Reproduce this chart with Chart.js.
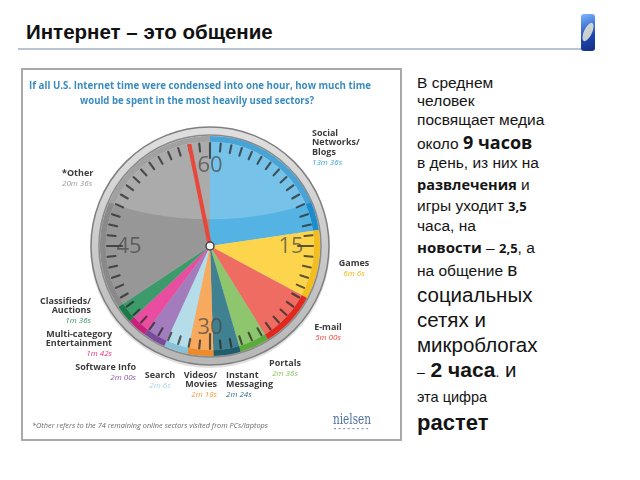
<!DOCTYPE html>
<html>
<head>
<meta charset="utf-8">
<script src="https://cdn.jsdelivr.net/npm/chart.js@4"></script>
<style>
  body { margin: 0; width: 640px; height: 480px; background: #fff; position: relative; overflow: hidden; font-family: "Liberation Sans", Arial, sans-serif; color: #141414; }
  #title { position: absolute; left: 26px; top: 20px; font-size: 20.5px; font-weight: bold; color: #111; }
  #rule { position: absolute; left: 18px; top: 48px; width: 565px; height: 2px; background: #b9c4ce; }
  #logo { position: absolute; left: 581px; top: 14px; width: 14px; height: 37px; border-radius: 3px; background: linear-gradient(160deg, #7ab8ff, #1d46b4 60%, #12307e); }
  #logo:after { content: ""; position: absolute; left: 3px; top: 8px; width: 8px; height: 20px; border-radius: 50%; background: rgba(230,230,210,0.85); transform: rotate(25deg); }
  #box { position: absolute; left: 21px; top: 68px; width: 381px; height: 373px; box-sizing: border-box; border: 2px solid #a9a9a9; }
  #side div { position: absolute; left: 417px; white-space: nowrap; line-height: 20px; }
  .b { font-family: "Open Sans", sans-serif; font-weight: bold; }
  canvas { position: absolute; left: 0; top: 0; }
</style>
</head>
<body>
<div id="title">Интернет – это общение</div>
<div id="rule"></div>
<div id="logo"></div>
<div id="box"></div>
<div id="side">
  <div style="top:73px;font-size:15.5px">В среднем</div>
  <div style="top:91px;font-size:15.5px">человек</div>
  <div style="top:110px;font-size:15.5px">посвящает медиа</div>
  <div style="top:132px;font-size:15.5px">около <span class="b" style="font-size:18px">9 часов</span></div>
  <div style="top:153px;font-size:15.5px">в день, из них на</div>
  <div style="top:175px;font-size:15.5px"><span class="b" style="font-size:14.5px">развлечения</span> и</div>
  <div style="top:196px;font-size:15.5px">игры уходит <span class="b" style="font-size:13px">3,5</span></div>
  <div style="top:216px;font-size:15.5px">часа, на</div>
  <div style="top:237px;font-size:15.5px"><span class="b" style="font-size:15px">новости</span> – <span class="b" style="font-size:13px">2,5</span>, а</div>
  <div style="top:260px;font-size:15.5px">на общение <span style="font-size:19px">в</span></div>
  <div style="top:285px;font-size:20.5px">социальных</div>
  <div style="top:310px;font-size:20.5px">сетях и</div>
  <div style="top:335px;font-size:20.5px">микроблогах</div>
  <div style="top:360px;font-size:20.5px"><span style="font-size:14px">–</span> <b style="font-size:21px">2 часа</b><span style="font-size:14px">.</span> и</div>
  <div style="top:387px;font-size:14.5px">эта цифра</div>
  <div style="top:413px;font-size:22px;font-weight:bold">растет</div>
</div>
<canvas id="clockChart" width="640" height="480"></canvas>
<script>
// seconds per hour of US internet time, clockwise from 12 o'clock
const sectors = ['Social\nNetworks/\nBlogs', 'Games', 'E-mail', 'Portals', 'Instant\nMessaging', 'Videos/\nMovies', 'Search', 'Software Info', 'Multi-category\nEntertainment', 'Classifieds/\nAuctions', '*Other'];
const seconds = [816, 366, 300, 156, 144, 138, 126, 120, 102, 96, 1236];
const timeLabels = ['13m 36s', '6m 6s', '5m 00s', '2m 36s', '2m 24s', '2m 18s', '2m 6s', '2m 00s', '1m 42s', '1m 36s', '20m 36s'];
const dialNumbers = ['60', '15', '30', '45'];

const fillColors = ['#55b3e3', '#fdd54c', '#ee6c61', '#8dc66d', '#3f8191', '#f7a95d', '#b5dde9', '#a27cbd', '#e94d9f', '#3d9a6b', '#979797'];
const edgeColors = ['#1b8ccd', '#f3bd1c', '#e2291f', '#5aab3a', '#1f5d6d', '#ef8a2a', '#86c3da', '#7a4a9a', '#c8207a', '#1c7a48', '#8a8a8a'];
const textColors = ['#3aa3da', '#f2b600', '#e8403a', '#86c05e', '#2f6f7f', '#f29a38', '#a6d2e0', '#8a5aa8', '#e0308a', '#3a9060', '#9a9a9a'];

// label anchors on the page: x, y of first line, alignment
const labelLayout = [
    [312, 133, 'left'], [354, 263, 'center'], [328, 327, 'center'], [285, 363, 'center'],
    [226, 375, 'left'], [217, 375, 'right'], [160, 375, 'center'], [136, 367, 'right'],
    [112, 334, 'right'], [91, 301, 'right'], [62, 173, 'left']
];

const clockFace = {
    id: 'clockFace',
    beforeDatasetsDraw(chart) {
        const arc = chart.getDatasetMeta(0).data[0];
        const { x, y, outerRadius } = arc.getProps(['x', 'y', 'outerRadius'], true);
        const ctx = chart.ctx;
        ctx.save();
        ctx.beginPath();
        ctx.arc(x, y + 2, outerRadius + 10, 0, Math.PI * 2);
        ctx.fillStyle = 'rgba(0,0,0,0.12)';
        ctx.fill();
        ctx.beginPath();
        ctx.arc(x, y, outerRadius + 9, 0, Math.PI * 2);
        const g = ctx.createLinearGradient(0, y - outerRadius, 0, y + outerRadius);
        g.addColorStop(0, '#dedede');
        g.addColorStop(1, '#b8b8b8');
        ctx.fillStyle = g;
        ctx.fill();
        ctx.lineWidth = 1.5;
        ctx.strokeStyle = '#7f7f7f';
        ctx.stroke();
        ctx.beginPath();
        ctx.arc(x, y, outerRadius + 1, 0, Math.PI * 2);
        ctx.strokeStyle = '#8a8a8a';
        ctx.lineWidth = 1.5;
        ctx.stroke();
        ctx.restore();
    },
    afterDatasetsDraw(chart) {
        const arc = chart.getDatasetMeta(0).data[0];
        const { x, y, outerRadius } = arc.getProps(['x', 'y', 'outerRadius'], true);
        const r = outerRadius;
        const ctx = chart.ctx;
        ctx.save();
        // gloss on the upper part
        ctx.beginPath();
        ctx.arc(x, y, r, 0, Math.PI * 2);
        ctx.clip();
        ctx.beginPath();
        ctx.ellipse(x, y - 95, r * 1.4, r * 0.62, 0, 0, Math.PI * 2);
        ctx.fillStyle = 'rgba(255,255,255,0.2)';
        ctx.fill();
        ctx.restore();

        // minute ticks
        ctx.save();
        ctx.strokeStyle = 'rgba(40,40,40,0.75)';
        ctx.lineCap = 'round';
        for (let i = 0; i < 60; i++) {
            const a = i / 60 * Math.PI * 2 - Math.PI / 2;
            const major = i % 15 === 0;
            const r0 = major ? r - 22 : r - 15;
            const r1 = r - 7;
            ctx.lineWidth = 2.1;
            ctx.beginPath();
            ctx.moveTo(x + Math.cos(a) * r0, y + Math.sin(a) * r0);
            ctx.lineTo(x + Math.cos(a) * r1, y + Math.sin(a) * r1);
            ctx.stroke();
        }
        // dial numbers
        ctx.fillStyle = 'rgba(70,70,70,0.7)';
        ctx.font = '22px "Open Sans", sans-serif';
        ctx.textAlign = 'center';
        ctx.textBaseline = 'middle';
        dialNumbers.forEach((n, i) => {
            const a = i / 4 * Math.PI * 2 - Math.PI / 2;
            const rr = r - 29;
            ctx.fillText(n, x + Math.cos(a) * rr, y + Math.sin(a) * rr + 1);
        });
        // red hand
        const ha = -Math.PI / 2 - 0.2;
        ctx.strokeStyle = '#e8473a';
        ctx.lineWidth = 4;
        ctx.lineCap = 'butt';
        ctx.beginPath();
        ctx.moveTo(x, y);
        ctx.lineTo(x + Math.cos(ha) * (r - 6), y + Math.sin(ha) * (r - 6));
        ctx.stroke();
        ctx.beginPath();
        ctx.arc(x, y, 4, 0, Math.PI * 2);
        ctx.fillStyle = '#f4f4f4';
        ctx.fill();
        ctx.lineWidth = 1.5;
        ctx.strokeStyle = '#444';
        ctx.stroke();
        ctx.restore();
    },
    afterDraw(chart) {
        const ctx = chart.ctx;
        ctx.save();
        // chart heading
        ctx.fillStyle = '#3a8cbf';
        ctx.font = 'bold 11px "Open Sans", sans-serif';
        ctx.textAlign = 'center';
        ctx.textBaseline = 'middle';
        ctx.fillText('If all U.S. Internet time were condensed into one hour, how much time', 200, 86, 342);
        ctx.fillText('would be spent in the most heavily used sectors?', 197, 101, 234);

        // sector labels
        sectors.forEach((name, i) => {
            const [lx, ly, align] = labelLayout[i];
            ctx.textAlign = align;
            const lines = name.split('\n');
            ctx.fillStyle = '#3c3c3c';
            ctx.font = 'bold 9px "Open Sans", sans-serif';
            lines.forEach((ln, k) => ctx.fillText(ln, lx, ly + k * 9.5));
            ctx.fillStyle = textColors[i];
            ctx.font = 'italic 8px "Open Sans", sans-serif';
            ctx.fillText(timeLabels[i], lx, ly + lines.length * 9.5 + 1);
        });

        // footnote and logo
        ctx.textAlign = 'left';
        ctx.fillStyle = '#6a6a6a';
        ctx.font = 'italic 7.5px "Open Sans", sans-serif';
        ctx.fillText('*Other refers to the 74 remaining online sectors visited from PCs/laptops', 32, 426, 236);
        ctx.fillStyle = '#4f6f9c';
        ctx.font = '14px "DejaVu Serif", serif';
        ctx.fillText('nielsen', 333, 420, 38);
        ctx.fillStyle = '#8a9ab0';
        for (let k = 0; k < 8; k++) ctx.fillRect(334 + k * 4.6, 428, 2, 1.2);
        ctx.restore();
    }
};

const canvas = document.getElementById('clockChart');
new Chart(canvas.getContext('2d'), {
    type: 'doughnut',
    data: {
        labels: sectors,
        datasets: [
            {
                label: 'rim',
                data: seconds,
                backgroundColor: edgeColors,
                borderWidth: 0,
                weight: 1
            },
            {
                label: 'Time per hour',
                data: seconds,
                backgroundColor: fillColors,
                borderWidth: 0,
                weight: 18
            }
        ]
    },
    options: {
        responsive: false,
        animation: false,
        cutout: 0,
        layout: { padding: { left: 100, top: 136, right: 320, bottom: 124 } },
        plugins: {
            legend: { display: false },
            tooltip: { enabled: false }
        }
    },
    plugins: [clockFace]
});
</script>
</body>
</html>
